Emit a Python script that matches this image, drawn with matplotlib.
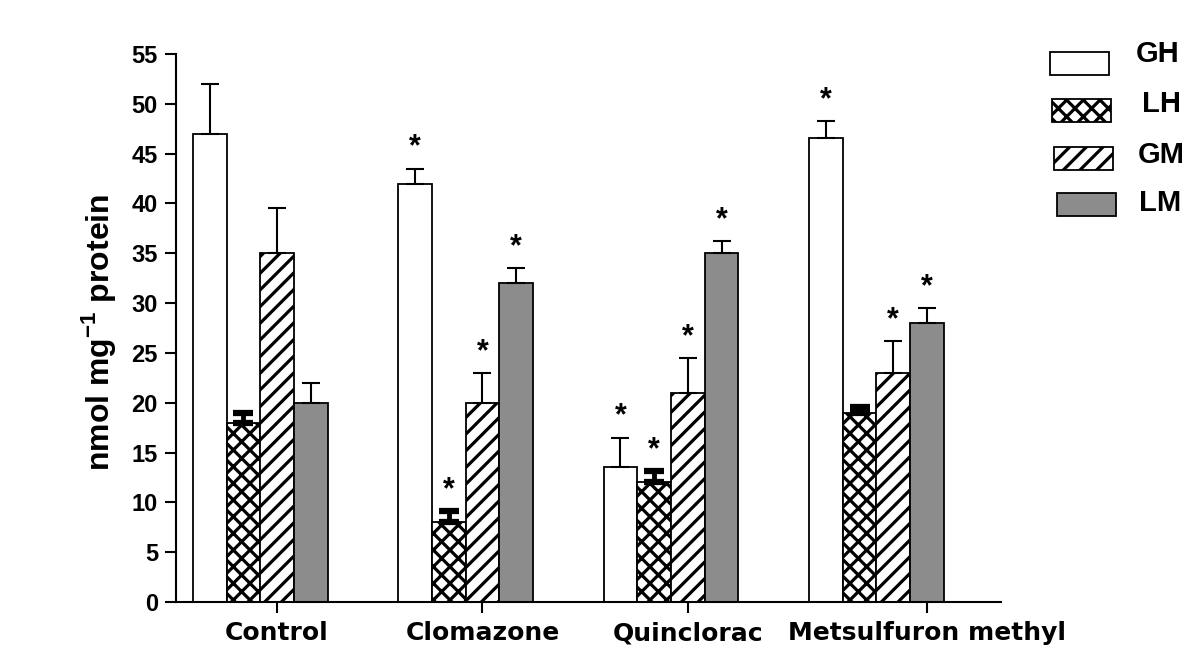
import numpy as np
import matplotlib
matplotlib.use("Agg")
import matplotlib.pyplot as plt
from matplotlib.patches import Rectangle

# ----- data -----
treatments = ["Control", "Clomazone", "Quinclorac", "Metsulfuron methyl"]
series = ["GH", "LH", "GM", "LM"]

gh_mean = [47.0, 42.0, 13.5, 46.6]
gh_err = [5.0, 1.5, 3.0, 1.7]
lh_mean = [18.0, 8.0, 12.0, 19.0]
lh_err = [1.0, 1.1, 1.1, 0.6]
gm_mean = [35.0, 20.0, 21.0, 23.0]
gm_err = [4.5, 3.0, 3.5, 3.2]
lm_mean = [20.0, 32.0, 35.0, 28.0]
lm_err = [2.0, 1.5, 1.2, 1.5]

# asterisks (significant vs control)
gh_sig = [0, 1, 1, 1]
lh_sig = [0, 1, 1, 0]
gm_sig = [0, 1, 1, 1]
lm_sig = [0, 1, 1, 1]

means = [gh_mean, lh_mean, gm_mean, lm_mean]
errs = [gh_err, lh_err, gm_err, lm_err]
sigs = [gh_sig, lh_sig, gm_sig, lm_sig]

# ----- styles -----
faces = ["white", "white", "white", "#8c8c8c"]
hatches = [None, "xx", "//", None]
err_lw = [1.5, 3.5, 1.5, 1.5]
cap_lw = [1.5, 4.5, 1.5, 1.5]
cap_sz = [6.5, 7.5, 6.5, 6.5]

plt.rcParams["hatch.linewidth"] = 2.3
plt.rcParams["hatch.color"] = "black"
plt.rcParams["mathtext.fontset"] = "custom"
plt.rcParams["mathtext.rm"] = "Liberation Sans:bold"
plt.rcParams["mathtext.bf"] = "Liberation Sans:bold"

W, H = 1202, 655
fig = plt.figure(figsize=(W / 100, H / 100), dpi=100)
ax = fig.add_axes([176 / W, (H - 602) / H, (1001 - 176) / W, (602 - 54) / H])

group_step = 6.1
group_x = np.arange(len(treatments)) * group_step
tick_off = [2.5, 2.5, 2.5, 3.5]

for i, name in enumerate(series):
    x = group_x + i + 0.5
    ax.bar(x, means[i], width=1.0, facecolor=faces[i], edgecolor="black",
           linewidth=1.3, hatch=hatches[i], zorder=2)
    ax.errorbar(x, means[i], yerr=[np.zeros(len(x)), errs[i]], fmt="none",
                ecolor="black", elinewidth=err_lw[i], capsize=cap_sz[i],
                capthick=cap_lw[i], zorder=3)
    for xi, m, e, s in zip(x, means[i], errs[i], sigs[i]):
        if s:
            ax.text(xi, m + e + 1.3, "*", ha="center", va="baseline",
                    fontsize=22, fontweight="bold", family="Liberation Sans")

ax.set_xlim(-0.5, 24.0)
ax.set_ylim(0, 55)
ax.set_yticks(np.arange(0, 56, 5))
ax.set_xticks(group_x + np.array(tick_off))
ax.set_xticklabels(treatments, fontsize=18, fontweight="bold", family="DejaVu Sans")
for lab in ax.get_yticklabels():
    lab.set_fontsize(17)
    lab.set_fontweight("bold")
    lab.set_family("Liberation Sans")

for side in ["top", "right"]:
    ax.spines[side].set_visible(False)
for side in ["left", "bottom"]:
    ax.spines[side].set_linewidth(1.5)
ax.tick_params(axis="y", direction="out", length=8, width=1.5, pad=5)
ax.tick_params(axis="x", direction="out", length=8, width=1.5, pad=6)

fig.text(98 / W, 1 - 332 / H, r"nmol mg$^{-1}$ protein", rotation=90,
         ha="center", va="center", fontsize=23, fontweight="bold",
         family="Liberation Sans")

# ----- legend, drawn by hand -----
box_xy = [(1050, 52), (1052, 99), (1054, 147), (1057, 193)]
text_xy = [(1136, 54), (1142, 104), (1138, 155), (1139, 203)]
for i, name in enumerate(series):
    bx, by = box_xy[i]
    fig.add_artist(Rectangle((bx / W, 1 - (by + 23) / H), 59 / W, 23 / H,
                             facecolor=faces[i], edgecolor="black",
                             linewidth=1.3, hatch=hatches[i],
                             transform=fig.transFigure))
    tx, ty = text_xy[i]
    fig.text(tx / W, 1 - ty / H, name, ha="left", va="center", fontsize=21,
             fontweight="bold", family="Liberation Sans")

fig.savefig("out.png", dpi=100, facecolor="white")
